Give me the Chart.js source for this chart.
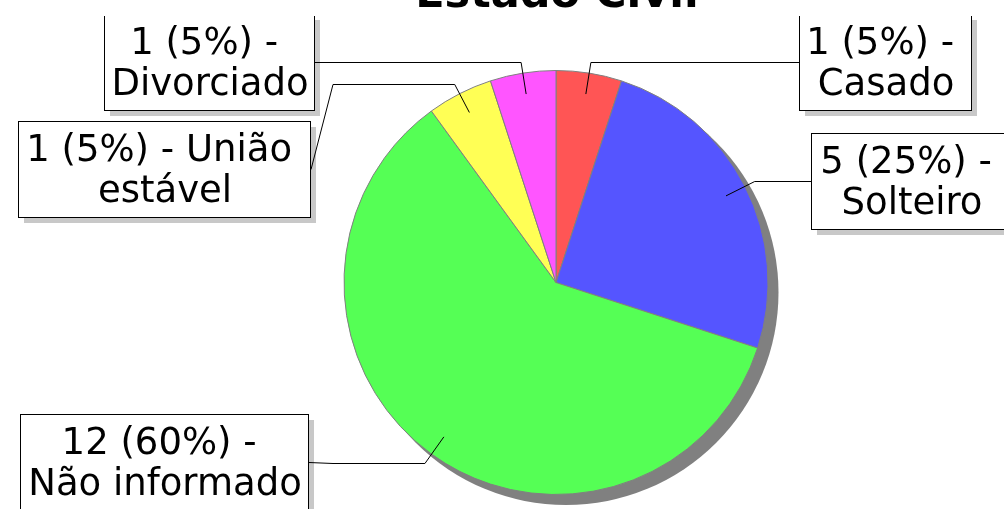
<!DOCTYPE html>
<html>
<head>
<meta charset="utf-8">
<script src="https://cdn.jsdelivr.net/npm/chart.js@4.4.1/dist/chart.umd.min.js"></script>
<style>
  html, body { margin: 0; padding: 0; background: #fff; overflow: hidden; }
</style>
</head>
<body>
<canvas id="grafico" width="1004" height="509"></canvas>
<script>
const titulo = 'Estado Civil';
const categorias = ['Casado', 'Solteiro', 'Não informado', 'União estável', 'Divorciado'];
const valores = [1, 5, 12, 1, 1];
const cores = ['#FF5555', '#5555FF', '#55FF55', '#FFFF55', '#FF55FF'];

// caixas dos rótulos: x, y, largura, altura, lado
const caixas = [
  [799, 14, 172, 96, 'right'],
  [811, 133, 200, 96, 'right'],
  [20, 414, 288, 96, 'left'],
  [18, 121, 292, 96, 'left'],
  [104, 14, 210, 96, 'left'],
];

// primeira linha: "n (p%) -" e as palavras que couberem; o resto vai para a segunda
function quebrar(ctx, inicio, nome, largura) {
  const palavras = nome.split(' ');
  let linha1 = inicio;
  while (palavras.length && ctx.measureText(linha1 + ' ' + palavras[0]).width <= largura) {
    linha1 += ' ' + palavras.shift();
  }
  // a quebra deixa o espaço no fim da primeira linha
  return palavras.length ? [linha1 + ' ', palavras.join(' ')] : [linha1];
}

// sombra do gráfico
const sombra = {
  id: 'sombra',
  beforeDatasetsDraw(chart) {
    const arc = chart.getDatasetMeta(0).data[0];
    const ctx = chart.ctx;
    ctx.save();
    ctx.fillStyle = '#808080';
    ctx.beginPath();
    ctx.arc(arc.x + 10, arc.y + 10, arc.outerRadius + 0.5, 0, Math.PI * 2);
    ctx.fill();
    ctx.restore();
  }
};

const rotulos = {
  id: 'rotulos',
  afterDatasetsDraw(chart) {
    const ctx = chart.ctx;
    const meta = chart.getDatasetMeta(0);
    const total = valores.reduce((a, b) => a + b, 0);
    ctx.save();
    ctx.beginPath();
    ctx.rect(0, 16, chart.width, chart.height);
    ctx.clip();
    ctx.font = '37px "DejaVu Sans"';
    ctx.lineWidth = 1;

    // caixas
    meta.data.forEach((arc, i) => {
      const [bx, by, bw, bh] = caixas[i];
      ctx.fillStyle = '#c8c8c8';
      ctx.fillRect(bx + 6, by + 6, bw, bh);
      ctx.fillStyle = '#fff';
      ctx.fillRect(bx, by, bw, bh);
      ctx.strokeStyle = '#000';
      ctx.strokeRect(bx + 0.5, by + 0.5, bw, bh);

      const pct = Math.round(valores[i] / total * 100);
      const linhas = quebrar(ctx, `${valores[i]} (${pct}%) -`, categorias[i], bw - 20);
      ctx.fillStyle = '#000';
      ctx.textAlign = 'center';
      ctx.textBaseline = 'alphabetic';
      const meio = by + bh / 2;
      linhas.forEach((l, k) => {
        ctx.fillText(l, bx + bw / 2 + 1, meio - 8 + k * 41);
      });
    });

    // linhas de ligação
    meta.data.forEach((arc, i) => {
      const [bx, by, bw, bh, lado] = caixas[i];
      const ang = (arc.startAngle + arc.endAngle) / 2;
      const r = arc.outerRadius;
      const x1 = arc.x + Math.cos(ang) * r * 0.9;
      const y1 = arc.y + Math.sin(ang) * r * 0.9;
      const x2 = arc.x + Math.cos(ang) * (r + 11);
      const y2 = Math.round(arc.y + Math.sin(ang) * (r + 11)) + 0.5;
      const xh = lado === 'right' ? 780 : 333;
      const ax = lado === 'right' ? bx : bx + bw + 1;
      const ay = Math.round(by + bh / 2) + 0.5;
      ctx.strokeStyle = '#000';
      ctx.beginPath();
      ctx.moveTo(x1, y1);
      ctx.lineTo(x2, y2);
      ctx.lineTo(xh, y2);
      ctx.lineTo(ax, ay);
      ctx.stroke();
    });
    ctx.restore();
  }
};

const tituloPlugin = {
  id: 'tituloTopo',
  afterDraw(chart) {
    const ctx = chart.ctx;
    ctx.save();
    ctx.font = 'bold 43px "DejaVu Sans"';
    ctx.fillStyle = '#000';
    ctx.textAlign = 'center';
    ctx.textBaseline = 'alphabetic';
    ctx.fillText(titulo, 557, 7);
    ctx.restore();
  }
};

new Chart(document.getElementById('grafico'), {
  type: 'pie',
  data: {
    labels: categorias,
    datasets: [{
      data: valores,
      backgroundColor: cores,
      borderColor: '#808080',
      borderWidth: 1,
    }]
  },
  options: {
    responsive: false,
    devicePixelRatio: 1,
    animation: false,
    layout: { padding: { left: 300, right: 192, top: 70, bottom: 14 } },
    plugins: {
      legend: { display: false },
      tooltip: { enabled: false },
      title: { display: false },
    }
  },
  plugins: [sombra, rotulos, tituloPlugin]
});
</script>
</body>
</html>
